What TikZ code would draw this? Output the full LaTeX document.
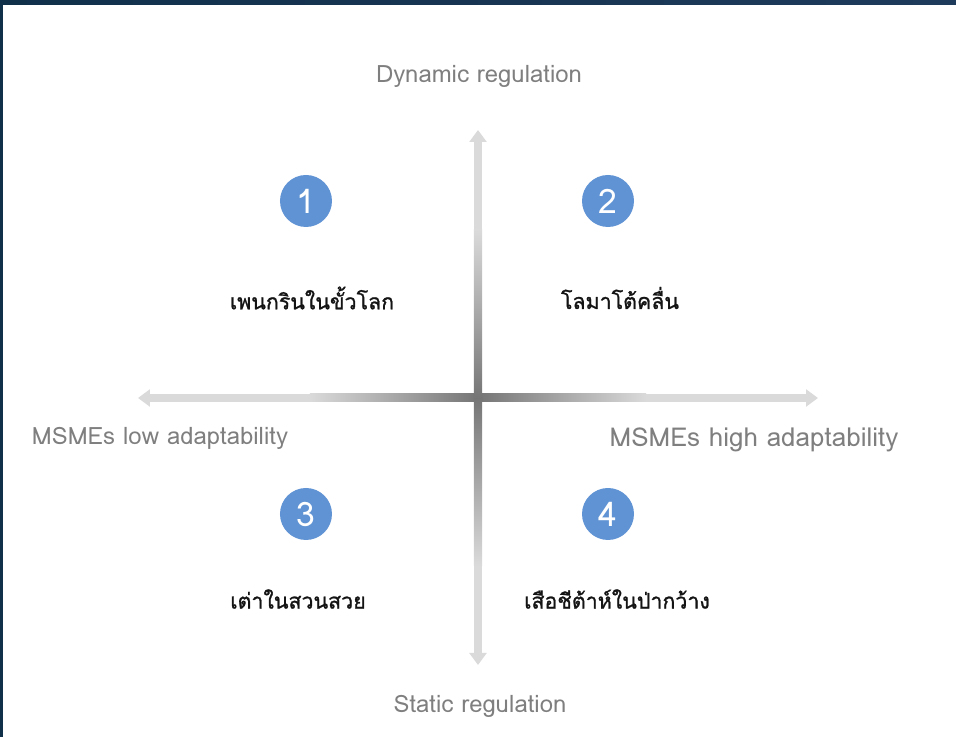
\documentclass[tikz,border=0pt]{standalone}
\usepackage{fontspec}
\setmainfont[Script=Thai]{Loma}
\newfontface\thaimed[Script=Thai,FakeBold=1.2]{Loma}
\usetikzlibrary{arrows.meta}
\definecolor{framenavy}{HTML}{10304A}
\definecolor{framenavyR}{HTML}{1F3B5C}
\definecolor{axislight}{HTML}{DADADA}
\definecolor{axisdark}{HTML}{757575}
\definecolor{bubble}{HTML}{5F93D4}
\definecolor{labelgray}{HTML}{7F7F7F}
\tikzset{
	axisline/.style={line width=0.2cm, draw=axislight,
		{Triangle[width=0.42cm,length=0.3cm]}-{Triangle[width=0.42cm,length=0.3cm]}},
	numdot/.style={circle, fill=bubble, minimum size=1.3cm, inner sep=0pt,
		text=white, font=\fontsize{24}{24}\selectfont},
	quadtext/.style={text=black!92, font=\thaimed\fontsize{15.2}{18}\selectfont},
	axistext/.style={text=labelgray, font=\fontsize{17}{20}\selectfont}
}
\begin{document}
\begin{tikzpicture}
		\useasboundingbox (-11.95,-8.475) rectangle (11.95,9.95);
		% Frame
		\shade[left color=framenavy, right color=framenavyR] (-11.95,9.825) rectangle (11.95,9.95);
		\fill[framenavy] (-11.95,-8.475) rectangle (-11.875,9.95);
		% Axes
		\coordinate (origin) at (0,0);
		\coordinate (top) at (0,6.7);
		\coordinate (bottom) at (0,-6.675);
		\coordinate (west) at (-8.5,0);
		\coordinate (east) at (8.5,0);
		\draw [axisline] (west) -- (east);
		\draw [axisline] (bottom) -- (top);
		\shade [left color=axislight, right color=axislight, middle color=axisdark] (-4.2,-0.1) rectangle (4.2,0.1);
		\shade [top color=axislight, bottom color=axislight, middle color=axisdark] (-0.1,-4.2) rectangle (0.1,4.2);
		% Axis labels
		\node [axistext] (dyn) at (0.025,8.05) {Dynamic regulation};
		\node [axistext] (stat) at (0.05,-7.7) {Static regulation};
		\node [axistext] (low) at (-7.95,-1.0) {MSMEs low adaptability};
		\node [axistext, font=\fontsize{18.5}{20}\selectfont] (high) at (6.9,-1.05) {MSMEs high adaptability};
		% Quadrants
		\node [numdot] (q1) at (-4.3,4.925) {1};
		\node [numdot] (q2) at (3.25,4.925) {2};
		\node [numdot] (q3) at (-4.3,-2.9) {3};
		\node [numdot] (q4) at (3.25,-2.9) {4};
		\node [quadtext] (penguin) at (-4.15,2.5) {เพนกรินในขั้วโลก};
		\node [quadtext] (dolphin) at (3.55,2.5) {โลมาโต้คลื่น};
		\node [quadtext] (turtle) at (-4.5,-5.025) {เต่าในสวนสวย};
		\node [quadtext] (cheetah) at (3.475,-5.025) {เสือชีต้าห์ในป่ากว้าง};
\end{tikzpicture}
\end{document}
